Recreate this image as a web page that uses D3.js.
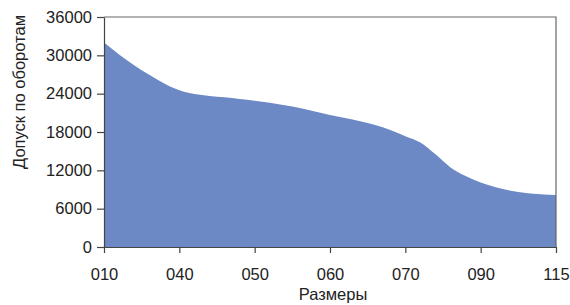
<!DOCTYPE html>
<html>
<head>
<meta charset="utf-8">
<script src="https://cdn.jsdelivr.net/npm/d3@7"></script>
<style>
  body { margin: 0; background: #fff; }
  text { font-family: "Liberation Sans", Arial, sans-serif; fill: #222; }
</style>
</head>
<body>
<div id="chart"></div>
<script>
// size labels shown on the x axis (equal spacing, 5 sub-steps between each)
var sizeLabels = ["010", "040", "050", "060", "070", "090", "115"];
var stepsPerLabel = 5;

// tolerance values, one per sub-step
var tolerance = [
  32000, 30150, 28450, 26950, 25600,
  24550, 23950, 23650, 23420, 23180,
  22900, 22570, 22180, 21750, 21220,
  20680, 20200, 19700, 19080, 18300,
  17350, 16350, 14500, 12450, 11100,
  10100, 9350, 8800, 8450, 8250,
  8150
];

var yTicks = [0, 6000, 12000, 18000, 24000, 30000, 36000];

var width = 570, height = 305;
var margin = {top: 17, right: 14, bottom: 58, left: 104};
var w = width - margin.left - margin.right;
var h = height - margin.top - margin.bottom;
var fontSize = "16.5px";

var svg = d3.select("#chart").append("svg")
  .attr("width", width)
  .attr("height", height);

var g = svg.append("g")
  .attr("transform", "translate(" + margin.left + "," + margin.top + ")");

var x = d3.scaleLinear()
  .domain([0, tolerance.length - 1])
  .range([0, w]);

var y = d3.scaleLinear()
  .domain([0, 36000])
  .range([h, 0]);

var area = d3.area()
  .x(function(d, i) { return x(i); })
  .y0(h)
  .y1(function(d) { return y(d); })
  .curve(d3.curveMonotoneX);

g.append("path")
  .datum(tolerance)
  .attr("fill", "#6c89c6")
  .attr("d", area);

// frame on top and right
g.append("path")
  .attr("d", "M0,0H" + w + "V" + h)
  .attr("fill", "none")
  .attr("stroke", "#666")
  .attr("stroke-width", 1.2);

var yAxis = g.append("g")
  .call(d3.axisLeft(y).tickValues(yTicks).tickFormat(d3.format("d"))
    .tickSize(7).tickPadding(5).tickSizeOuter(0));

var xAxis = g.append("g")
  .attr("transform", "translate(0," + h + ")")
  .call(d3.axisBottom(x)
    .tickValues(sizeLabels.map(function(d, i) { return i * stepsPerLabel; }))
    .tickFormat(function(d) { return sizeLabels[d / stepsPerLabel]; })
    .tickSize(6).tickPadding(15).tickSizeOuter(0));

[yAxis, xAxis].forEach(function(a) {
  a.selectAll("path, line").attr("stroke", "#444").attr("stroke-width", 1.2);
  a.selectAll("text").style("font-size", fontSize).attr("fill", "#222")
    .style("font-family", "'Liberation Sans', Arial, sans-serif");
});

svg.append("text")
  .attr("x", margin.left + w / 2 + 3)
  .attr("y", 300)
  .attr("text-anchor", "middle")
  .style("font-size", fontSize)
  .text("Размеры");

svg.append("text")
  .attr("transform", "translate(25," + (margin.top + h / 2 - 40) + ") rotate(-90)")
  .attr("text-anchor", "middle")
  .style("font-size", fontSize)
  .text("Допуск по оборотам");
</script>
</body>
</html>
